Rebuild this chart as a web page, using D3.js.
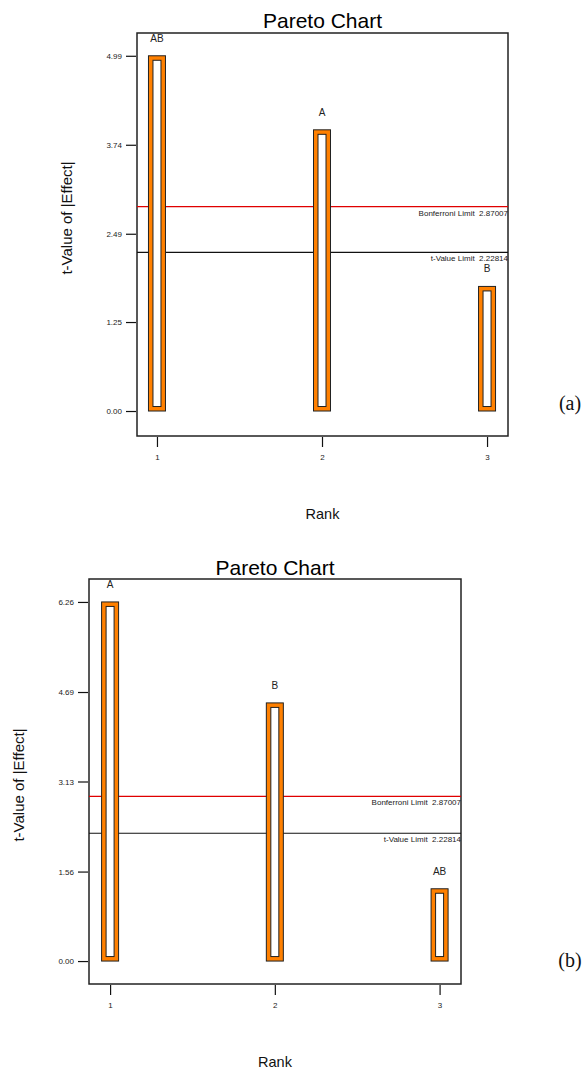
<!DOCTYPE html>
<html>
<head>
<meta charset="utf-8">
<script src="https://cdn.jsdelivr.net/npm/d3@7"></script>
<style>
  body { margin: 0; background: #fff; }
  text { font-family: "Liberation Sans", Arial, sans-serif; }
</style>
</head>
<body>
<svg id="chart"></svg>
<script>
// data
var ranks = [1, 2, 3];

var effectsA = ["AB", "A", "B"];
var tValuesA = [4.99, 3.95, 1.75];
var yTicksA = ["0.00", "1.25", "2.49", "3.74", "4.99"];

var effectsB = ["A", "B", "AB"];
var tValuesB = [6.26, 4.50, 1.26];
var yTicksB = ["0.00", "1.56", "3.13", "4.69", "6.26"];

var bonferroniLimit = 2.87007;
var tValueLimit = 2.22814;

var svg = d3.select("#chart")
    .attr("width", 582)
    .attr("height", 1070);

drawPareto = function(g, box, effects, values, ticks, panel){
    var xScale = d3.scaleLinear()
        .domain(box.xDomain)
        .range([box.left, box.right]);
    var yScale = d3.scaleLinear()
        .domain(box.yDomain)
        .range([box.bottom, box.top]);

    var data = [];
    for (let i = 0; i < ranks.length; i++) {
        data.push({rank: ranks[i], effect: effects[i], value: values[i]});
    }

    // title
    g.append("text")
        .attr("x", (box.left + box.right) / 2)
        .attr("y", box.titleY)
        .attr("text-anchor", "middle")
        .attr("font-size", "21px")
        .attr("fill", "Black")
        .text("Pareto Chart");

    // y axis
    g.append("g")
        .attr("class", "yAxis")
        .attr("transform", "translate(" + (box.left - 1) + ",0)")
        .call(d3.axisLeft(yScale)
            .tickValues(ticks.map(Number))
            .tickFormat(function(d, i){ return ticks[i]; })
            .tickSize(10)
            .tickPadding(4))
        .call(function(a){ a.select(".domain").remove(); })
        .call(function(a){
            a.selectAll("line").attr("stroke", "#111").attr("stroke-width", 1.2);
            a.selectAll("text").attr("font-size", "8px").attr("fill", "#222");
        });

    // x axis
    g.append("g")
        .attr("class", "xAxis")
        .attr("transform", "translate(0," + (box.bottom + 1) + ")")
        .call(d3.axisBottom(xScale)
            .tickValues(ranks)
            .tickFormat(d3.format("d"))
            .tickSize(10)
            .tickPadding(7))
        .call(function(a){ a.select(".domain").remove(); })
        .call(function(a){
            a.selectAll("line").attr("stroke", "#111").attr("stroke-width", 1.2);
            a.selectAll("text").attr("font-size", "8px").attr("fill", "#222");
        });

    // frame
    g.append("rect")
        .attr("x", box.left)
        .attr("y", box.top)
        .attr("width", box.right - box.left)
        .attr("height", box.bottom - box.top)
        .style("fill", "none")
        .style("stroke", "#222")
        .style("stroke-width", "1.5px");

    // limit lines
    var limits = [
        {value: bonferroniLimit, color: "#e00000", label: "Bonferroni Limit\u00a0\u00a02.87007"},
        {value: tValueLimit, color: "#111", label: "t-Value Limit\u00a0\u00a02.22814"}
    ];
    limits.forEach(function(l){
        g.append("line")
            .attr("x1", box.left)
            .attr("x2", box.right)
            .attr("y1", yScale(l.value))
            .attr("y2", yScale(l.value))
            .attr("stroke", l.color)
            .attr("stroke-width", 1.2);
        g.append("text")
            .attr("x", box.right)
            .attr("y", yScale(l.value) + 9)
            .attr("text-anchor", "end")
            .attr("font-size", "8px")
            .attr("fill", "#222")
            .text(l.label);
    });

    // bars: orange frame with white core
    var barW = 17;
    var inset = 4.5;
    var bars = g.selectAll(".bar")
        .data(data)
        .enter()
        .append("g")
        .attr("class", "bar");

    bars.append("rect")
        .attr("x", function(d){ return xScale(d.rank) - barW / 2; })
        .attr("y", function(d){ return yScale(d.value); })
        .attr("width", barW)
        .attr("height", function(d){ return yScale(0) - yScale(d.value); })
        .attr("fill", "#FF8000")
        .attr("stroke", "#222")
        .attr("stroke-width", 1);

    bars.append("rect")
        .attr("x", function(d){ return xScale(d.rank) - barW / 2 + inset; })
        .attr("y", function(d){ return yScale(d.value) + inset; })
        .attr("width", barW - 2 * inset)
        .attr("height", function(d){ return yScale(0) - yScale(d.value) - 2 * inset; })
        .attr("fill", "White")
        .attr("stroke", "#222")
        .attr("stroke-width", 1);

    bars.append("text")
        .attr("x", function(d){ return xScale(d.rank); })
        .attr("y", function(d){ return yScale(d.value) - 14; })
        .attr("text-anchor", "middle")
        .attr("font-size", "10px")
        .attr("fill", "#222")
        .text(function(d){ return d.effect; });

    // axis labels
    g.append("text")
        .attr("transform", "translate(" + box.yLabelX + "," + box.yLabelY + ") rotate(-90)")
        .attr("text-anchor", "middle")
        .attr("font-size", "15px")
        .attr("fill", "#111")
        .text("t-Value of |Effect|");

    g.append("text")
        .attr("x", (box.left + box.right) / 2)
        .attr("y", box.rankY)
        .attr("text-anchor", "middle")
        .attr("font-size", "14.5px")
        .attr("fill", "#111")
        .text("Rank");

    // panel tag
    g.append("text")
        .attr("x", 570)
        .attr("y", box.panelY)
        .attr("text-anchor", "middle")
        .style("font-family", "'Liberation Serif', 'Times New Roman', serif")
        .attr("font-size", "20px")
        .attr("fill", "#111")
        .text(panel);
}

var boxA = {
    left: 137, right: 508, top: 33, bottom: 436,
    xDomain: [0.879, 3.127], yDomain: [-0.351, 5.31],
    titleY: 28, yLabelX: 72, yLabelY: 218, rankY: 519, panelY: 410
};
var boxB = {
    left: 89, right: 461, top: 579, bottom: 984,
    xDomain: [0.872, 3.13], yDomain: [-0.40, 6.66],
    titleY: 575, yLabelX: 24, yLabelY: 785, rankY: 1067, panelY: 967
};

drawPareto(svg.append("g"), boxA, effectsA, tValuesA, yTicksA, "(a)");
drawPareto(svg.append("g"), boxB, effectsB, tValuesB, yTicksB, "(b)");
</script>
</body>
</html>
